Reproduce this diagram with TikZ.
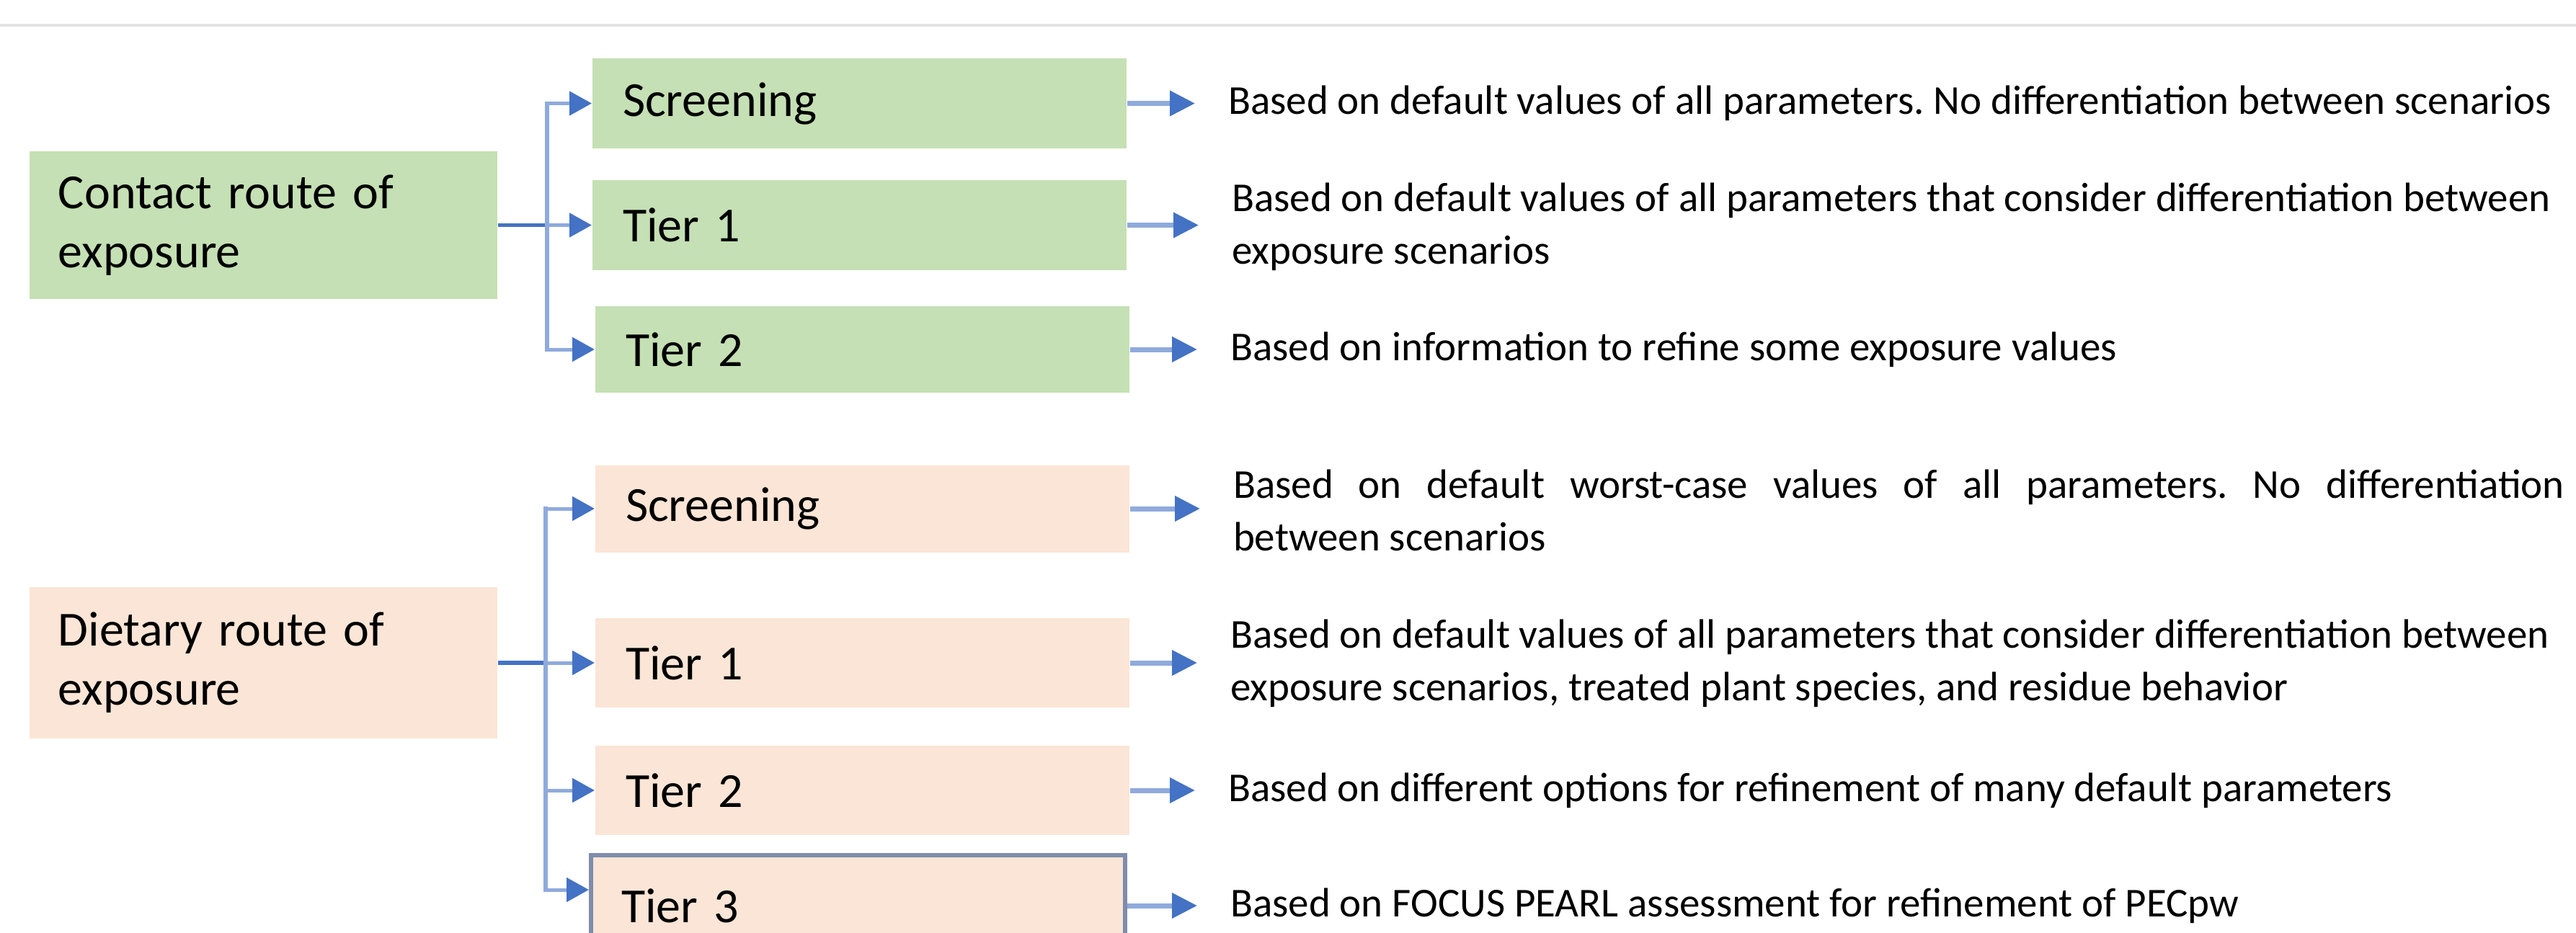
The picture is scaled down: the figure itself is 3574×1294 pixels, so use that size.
\documentclass[tikz,border=0pt]{standalone}
\usepackage{fontspec}
\setmainfont{Carlito}
\usetikzlibrary{arrows.meta,calc}
\definecolor{boxgreen}{HTML}{C5E0B4}
\definecolor{boxpeach}{HTML}{FBE5D6}
\definecolor{arrowdark}{HTML}{4472C4}
\definecolor{arrowlight}{HTML}{8FAADC}
\definecolor{tierborder}{HTML}{7F8CAB}
\definecolor{rulegray}{HTML}{E3E3E3}
\frenchspacing
\begin{document}
\begin{tikzpicture}[x=0.2pt,y=-0.2pt,
  labelfont/.style={font=\fontsize{13.6}{16.4}\selectfont},
  routebox/.style={labelfont, inner xsep=8pt, inner ysep=0pt, text width=113.8pt, align=left},
  tierbox/.style={labelfont, inner xsep=8.4pt, inner ysep=0pt, text width=131.4pt, align=left},
  desc/.style={anchor=west, inner sep=0pt, font=\fontsize{11.4}{14.6}\selectfont, align=left},
  feed/.style={draw=arrowdark, line width=1.1pt},
  trunk/.style={draw=arrowlight, line width=1.1pt, line cap=rect},
  branch/.style={draw=arrowlight, line width=1pt, -{Triangle[length=6.2pt,width=6.6pt,color=arrowdark]}},
  rarrow/.style={draw=arrowlight, line width=1.4pt, -{Triangle[length=7pt,width=6.8pt,color=arrowdark]}, shorten >=9pt},
  rule/.style={draw=rulegray, line width=0.8pt}
]
\useasboundingbox (0,0) rectangle (3574,1294);
\clip (0,0) rectangle (3574,1294);
\fill[white] (0,0) rectangle (3574,1294);
\draw[rule] (0,35) -- (3574,35);

% contact route
\node[routebox, fill=boxgreen, minimum height=41pt] (contact) at (365.5,312.5) {Contact route of\\exposure};
\node[tierbox, fill=boxgreen, minimum height=25pt] (cs) at (1192.5,143.5) {Screening};
\node[tierbox, fill=boxgreen, minimum height=25pt] (ct1) at (1192.5,312.5) {Tier 1};
\node[tierbox, fill=boxgreen, minimum height=24pt] (ct2) at (1196.5,485) {Tier 2};
\coordinate (cj) at (759,312.5);

\node[desc] (dcs) at (1703,143.5) {Based on default values of all parameters. No differentiation between scenarios};
\node[desc] (dct1) at (1708,315) {Based on default values of all parameters that consider differentiation between\\exposure scenarios};
\node[desc] (dct2) at (1706,485) {Based on information to refine some exposure values};

\draw[feed] (contact.east) -- (cj);
\draw[trunk] (cj |- cs.west) -- (cj |- ct2.west);
\draw[branch] (cj |- cs.west) -- (cs.west);
\draw[branch] (cj |- ct1.west) -- (ct1.west);
\draw[branch] (cj |- ct2.west) -- (ct2.west);
\draw[rarrow] (cs.east) -- (dcs.west);
\draw[rarrow] (ct1.east) -- (ct1.east -| dct1.west);
\draw[rarrow] (ct2.east) -- (dct2.west);

% dietary route
\node[routebox, fill=boxpeach, minimum height=42pt] (diet) at (365.5,920) {Dietary route of\\exposure};
\node[tierbox, fill=boxpeach, minimum height=24.2pt] (ds) at (1196.5,706) {Screening};
\node[tierbox, fill=boxpeach, minimum height=24.8pt] (dt1) at (1196.5,920) {Tier 1};
\node[tierbox, fill=boxpeach, minimum height=24.8pt] (dt2) at (1196.5,1097) {Tier 2};
\node[tierbox, fill=boxpeach, draw=tierborder, line width=1.2pt, minimum height=28pt] (dt3) at (1190.5,1257) {Tier 3};
\coordinate (dj) at (757,920);
\coordinate (t3in) at ($(dt3.north west)+(0,51)$);

\node[desc, text width=369.4pt, align=justify] (dds) at (1710,708) {Based on default worst-case values of all parameters. No differentiation\linebreak between scenarios};
\node[desc] (ddt1) at (1706,920.5) {Based on default values of all parameters that consider differentiation between\\exposure scenarios, treated plant species, and residue behavior};
\node[desc] (ddt2) at (1703,1097) {Based on different options for refinement of many default parameters};
\node[desc] (ddt3) at (1706,1257) {Based on FOCUS PEARL assessment for refinement of PECpw};

\draw[feed] (diet.east) -- (dj);
\draw[trunk] (dj |- ds.west) -- (dj |- t3in);
\draw[branch] (dj |- ds.west) -- (ds.west);
\draw[branch] (dj |- dt1.west) -- (dt1.west);
\draw[branch] (dj |- dt2.west) -- (dt2.west);
\draw[branch] (dj |- t3in) -- (t3in);
\draw[rarrow] (ds.east) -- (ds.east -| dds.west);
\draw[rarrow] (dt1.east) -- (dt1.east -| ddt1.west);
\draw[rarrow] (dt2.east) -- (ddt2.west);
\draw[rarrow] (dt3.east) -- (ddt3.west);
\end{tikzpicture}
\end{document}
